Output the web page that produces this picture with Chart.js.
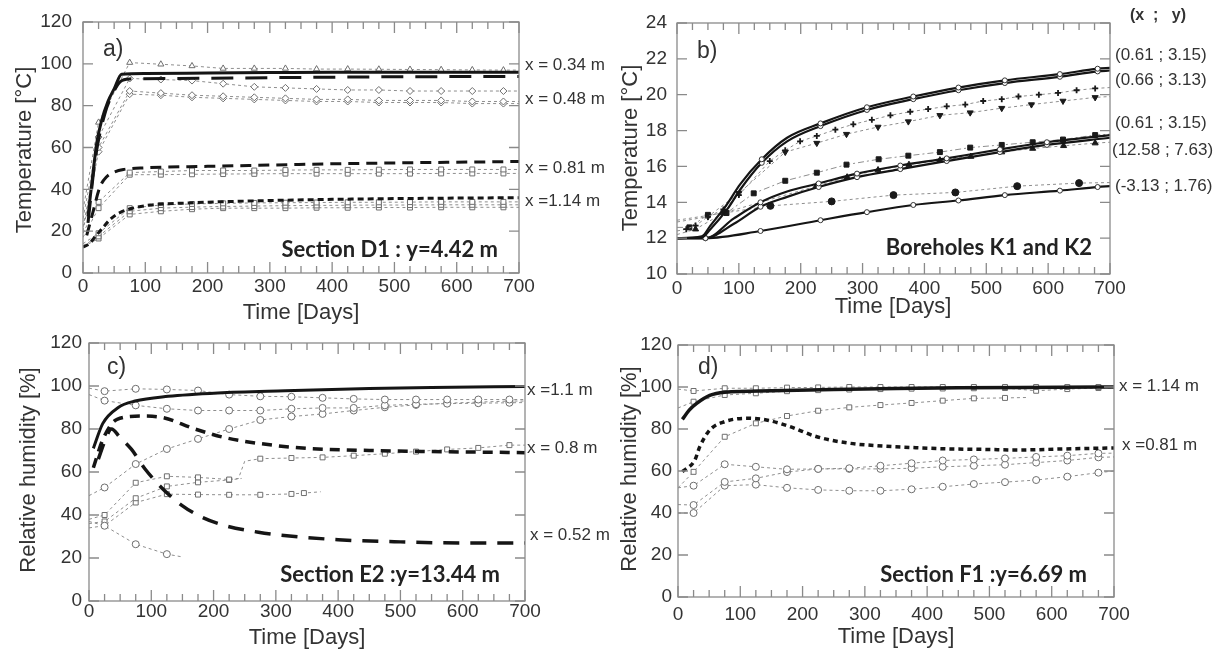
<!DOCTYPE html>
<html>
<head>
<meta charset="utf-8">
<script src="https://cdn.jsdelivr.net/npm/chart.js@4.4.0/dist/chart.umd.min.js"></script>
<style>
  body { margin: 0; background: #fff; width: 1223px; height: 650px; overflow: hidden; position: relative; }
  canvas { position: absolute; left: 0; top: 0; }
</style>
</head>
<body>
<canvas id="chartA" width="1223" height="650"></canvas>
<canvas id="chartB" width="1223" height="650"></canvas>
<canvas id="chartC" width="1223" height="650"></canvas>
<canvas id="chartD" width="1223" height="650"></canvas>
<script>
// ---- a) Section D1 : temperature ----
const aDays34 = [8, 15, 22, 30, 40, 50, 62, 100, 200, 300, 400, 500, 600, 700];
const aT34 = [27, 45, 62, 73, 82, 88, 95, 95.4, 95.6, 95.8, 96, 96, 96, 96];
const aDays48 = [8, 20, 35, 50, 60, 75, 150, 300, 500, 700];
const aT48 = [24, 55, 76, 87, 91.5, 92.8, 93, 93.4, 93.8, 94];
const aDays81 = [6, 15, 27, 38, 48, 65, 100, 200, 300, 400, 550, 700];
const aT81 = [18, 28, 41, 46, 48, 49.5, 50.3, 51, 51.6, 52.2, 52.8, 53.3];
const aDays114 = [0, 10, 20, 30, 45, 60, 80, 108, 170, 250, 400, 550, 700];
const aT114 = [12.4, 14, 17.5, 21, 26, 29, 31, 32.5, 33.5, 34.3, 35.2, 35.7, 36];
const aMeasDays = [0, 25, 75, 125, 175, 225, 275, 325, 375, 425, 475, 525, 575, 625, 675, 700];
const aTri = [30, 72, 100.6, 99.8, 99, 97.8, 97.8, 97.8, 97.5, 97.5, 97.4, 97.3, 97.2, 97.1, 97, 97];
const aDiaOpen = [26, 65, 93, 92.5, 92, 90.5, 89, 88.5, 88, 87.5, 87.5, 87, 87, 87, 87, 87];
const aDiaA = [22, 60, 87, 86, 85, 84.5, 84, 83.5, 83, 83, 82.5, 82.5, 82.5, 82, 82, 82];
const aDiaB = [20, 58, 85.5, 85, 84, 83.5, 83, 82.5, 82, 82, 81.5, 81.5, 81.5, 81, 81, 81];
const aSq81A = [19, 34, 48, 48.5, 49, 49, 49, 49.2, 49.3, 49.3, 49.4, 49.5, 49.5, 49.5, 49.5, 49.5];
const aSq81B = [17, 31, 47, 47, 47.2, 47.3, 47.4, 47.5, 47.5, 47.5, 47.5, 47.5, 47.6, 47.6, 47.6, 47.6];
const aSq114A = [14, 19, 31, 32.5, 33, 33.3, 33.5, 33.6, 33.7, 33.8, 33.8, 33.9, 34, 34, 34, 34];
const aSq114B = [13, 17.5, 29.5, 31, 31.5, 31.8, 32, 32.2, 32.3, 32.4, 32.5, 32.5, 32.6, 32.6, 32.6, 32.6];
const aSq114C = [12.5, 16.5, 28, 29.5, 30.5, 31, 31, 31, 31.2, 31.2, 31.3, 31.3, 31.4, 31.4, 31.4, 31.4];

// ---- b) Boreholes K1 and K2 ----
const bDaysTop = [0, 40, 54, 81, 102, 137, 178, 232, 307, 382, 455, 530, 619, 680, 700];
const bTop1 = [12, 12.1, 12.7, 13.9, 15.0, 16.4, 17.6, 18.4, 19.3, 19.9, 20.4, 20.8, 21.15, 21.45, 21.5];
const bTop2 = [12, 12.05, 12.5, 13.6, 14.7, 16.2, 17.4, 18.25, 19.15, 19.75, 20.25, 20.65, 21.0, 21.3, 21.35];
const bDaysMid = [0, 46, 92, 135, 178, 229, 291, 361, 436, 522, 598, 700];
const bMid1 = [12, 12, 13.1, 14, 14.6, 15.05, 15.6, 16.05, 16.45, 16.95, 17.35, 17.75];
const bMid2 = [12, 12, 12.8, 13.75, 14.3, 14.85, 15.4, 15.85, 16.3, 16.8, 17.2, 17.6];
const bDaysLow = [0, 46, 135, 232, 307, 382, 455, 530, 619, 680, 700];
const bLow = [12, 12, 12.4, 13.0, 13.45, 13.85, 14.1, 14.4, 14.65, 14.85, 14.9];
const bMarkDays = [46, 137, 135, 232, 229, 307, 291, 382, 361, 455, 436, 530, 522, 619, 598, 680];
const bCrossDays = [0, 15, 30, 50, 75, 100, 150, 175, 199, 226, 256, 285, 315, 345, 377, 406, 436, 466, 495, 525, 552, 585, 616, 646, 676, 700];
const bCross = [12.4, 12.5, 12.7, 13.2, 13.6, 14.4, 16.3, 16.9, 17.4, 17.7, 18.05, 18.35, 18.6, 18.85, 19.05, 19.2, 19.35, 19.45, 19.65, 19.75, 19.9, 20.0, 20.1, 20.25, 20.35, 20.4];
const bTriDownDays = [0, 50, 100, 175, 226, 274, 325, 374, 425, 474, 525, 573, 624, 676, 700];
const bTriDown = [12.9, 13.2, 14.5, 16.8, 17.3, 17.8, 18.2, 18.5, 18.85, 19.0, 19.25, 19.45, 19.65, 19.85, 19.9];
const bSqDays = [0, 20, 50, 80, 124, 175, 226, 274, 326, 374, 425, 474, 525, 575, 624, 676, 700];
const bSq = [12.6, 12.6, 13.3, 13.4, 14.5, 15.2, 15.65, 16.1, 16.4, 16.6, 16.8, 17.05, 17.2, 17.35, 17.5, 17.75, 17.8];
const bTriUpDays = [0, 30, 75, 225, 275, 325, 375, 425, 475, 525, 575, 625, 676, 700];
const bTriUp = [12.2, 12.5, 13.4, 14.9, 15.4, 15.8, 16.1, 16.35, 16.55, 16.8, 17.0, 17.15, 17.3, 17.35];
const bDotDays = [0, 151, 250, 350, 450, 550, 650, 700];
const bDot = [13.0, 13.8, 14.05, 14.4, 14.55, 14.9, 15.07, 15.1];

// ---- c) Section E2 : relative humidity ----
const cDaysSolid = [7, 22, 47, 74, 127, 207, 315, 450, 550, 700];
const cSolid = [71, 82.5, 90, 93, 95.2, 96.8, 97.8, 98.8, 99.3, 99.8];
const cDays08 = [7, 22, 45, 85, 117, 170, 218, 294, 350, 450, 550, 700];
const c08 = [62, 75, 84.5, 86, 85.4, 80, 76, 72.5, 71, 70, 69.5, 69];
const cDays052 = [15, 25, 36, 50, 68, 90, 119, 149, 181, 219, 272, 309, 400, 500, 600, 700];
const c052 = [66, 74, 80, 76, 70.6, 61.4, 52, 44.5, 39, 35, 32, 30.6, 28.5, 27.5, 27, 27];
const cMeasDays = [0, 25, 75, 125, 175, 225, 275, 325, 375, 425, 475, 525, 575, 625, 675, 700];
const cC1 = [99, 97.6, 98.7, 98.4, 97.9, 96, 95.2, 95, 94.5, 94, 93.7, 93.7, 93.7, 93.7, 93.7, 93.7];
const cC2 = [96, 93.2, 91, 89.4, 88.6, 88.6, 88.6, 89.4, 89.8, 89.8, 91, 91.5, 91.8, 92, 92.2, 92.3];
const cC3 = [49, 52.8, 63.7, 70.7, 75.4, 80, 84.2, 85.8, 87, 88.6, 90.1, 91.2, 92, 92.5, 93, 93];
const cC4Days = [0, 25, 75, 125, 150];
const cC4 = [37, 35, 26.4, 21.8, 20.5];
const cS1Days = [0, 25, 75, 125, 175, 225, 240, 250, 275, 325, 375, 425, 475, 525, 575, 625, 675, 700];
const cS1 = [38, 40, 55, 58, 57.5, 56.5, 57, 65, 66.2, 66.5, 66.8, 67.6, 68.5, 69.5, 70.5, 71.2, 72.5, 72.5];
const cS2Days = [0, 25, 75, 125, 175, 225, 245];
const cS2 = [36, 37, 47.8, 53.3, 55.2, 56.3, 57];
const cS3Days = [0, 25, 75, 125, 175, 225, 275, 325, 345, 372];
const cS3 = [34, 35, 45.8, 49.7, 49.5, 49.4, 49.4, 49.8, 50.2, 50.8];

// ---- d) Section F1 : relative humidity ----
const dDaysSolid = [7, 18, 30, 51, 75, 150, 250, 350, 450, 550, 700];
const dSolid = [84.6, 89, 92.2, 96, 97.5, 98.2, 98.8, 99.3, 99.6, 99.8, 100];
const dDays081 = [7, 27, 35, 51, 75, 110, 142, 180, 223, 276, 329, 383, 437, 490, 544, 620, 700];
const d081 = [59.7, 65.2, 71.6, 79.5, 83.5, 85.1, 84.3, 81.1, 76.3, 73.2, 71.9, 71.1, 70.5, 70.3, 70, 70.5, 71];
const dMeasDays = [0, 25, 75, 125, 175, 225, 275, 325, 375, 425, 475, 525, 575, 625, 675, 700];
const dSqTop = [99, 98.1, 99.4, 99.4, 99.7, 99.8, 100, 100, 100, 100, 100, 100, 100, 100, 100, 100];
const dSq3 = [90, 93, 96.2, 97, 98, 98.5, 98.8, 99, 99.2, 99.3, 99.4, 99.5, 98.2, 99, 99.5, 99.6];
const dSqRiseDays = [0, 25, 75, 125, 175, 225, 275, 325, 375, 425, 475, 525, 560];
const dSqRise = [52, 59.6, 76.3, 82.7, 86.2, 88.7, 90.3, 91.4, 92.4, 93.5, 94.6, 94.8, 95];
const dCa = [52, 53, 63.2, 62, 60.8, 61, 61.3, 62.5, 63.7, 65, 65.5, 66, 66.7, 67.3, 68.4, 68.5];
const dCb = [44, 43.8, 54.8, 56.5, 59.5, 61, 61, 61, 61.3, 62, 62.5, 63, 64, 65, 66.5, 66.7];
const dClow = [40, 40, 53, 53.5, 52, 51, 50.6, 50.6, 51.3, 52.5, 53.8, 54.7, 55.7, 57.3, 59.2, 60];

const FONT = "'Liberation Sans', Arial, sans-serif";
const BOLD = "bold 22px Lato, 'Open Sans', sans-serif";

function pts(days, vals) {
  return days.map((d, i) => ({ x: d, y: vals[i] }));
}
const oddMark = x => x > 0 && x < 700 && x % 50 === 25;
const allMark = x => x > 0 && x < 700;

function model(days, vals, width, dash, markDays) {
  return {
    data: pts(days, vals), borderColor: '#151515', borderWidth: width, borderDash: dash || [],
    cubicInterpolationMode: 'monotone', fill: false,
    pointStyle: 'circle', pointBackgroundColor: '#fff', pointBorderColor: '#333', pointBorderWidth: 1,
    pointRadius: c => (markDays && markDays.includes(c.raw.x)) ? 2.5 : 0
  };
}

function meas(days, vals, style, filled, mark, extra) {
  mark = mark || oddMark;
  return Object.assign({
    data: pts(days, vals), borderColor: '#8e8e8e', borderWidth: 1, borderDash: [3, 3], tension: 0, fill: false,
    pointStyle: style, pointRadius: c => mark(c.raw.x) ? 3.5 : 0,
    pointBorderColor: filled ? '#1a1a1a' : '#6e6e6e', pointBackgroundColor: filled ? '#1a1a1a' : '#fff',
    pointBorderWidth: 1
  }, extra || {});
}

const frameTicks = {
  id: 'frameTicks',
  afterDatasetsDraw(chart) {
    const { ctx, chartArea: a, scales: { x, y } } = chart;
    ctx.save();
    ctx.strokeStyle = '#8a8a8a';
    ctx.lineWidth = 1.3;
    ctx.strokeRect(a.left, a.top, a.right - a.left, a.bottom - a.top);
    ctx.beginPath();
    for (let d = 0; d <= 700; d += 25) {
      const px = x.getPixelForValue(d);
      const len = d % 100 === 0 ? 11 : 7;
      ctx.moveTo(px, a.bottom); ctx.lineTo(px, a.bottom - len);
      ctx.moveTo(px, a.top); ctx.lineTo(px, a.top + len);
    }
    y.ticks.forEach(t => {
      const py = y.getPixelForValue(t.value);
      ctx.moveTo(a.left, py); ctx.lineTo(a.left + 10, py);
      ctx.moveTo(a.right, py); ctx.lineTo(a.right - 10, py);
    });
    ctx.stroke();
    ctx.restore();
  }
};

function textLayer(items) {
  return {
    id: 'textLayer',
    afterDraw(chart) {
      const ctx = chart.ctx, y = chart.scales.y;
      ctx.save();
      items.forEach(it => {
        ctx.font = it.font;
        ctx.fillStyle = it.color || '#333';
        ctx.textAlign = it.align || 'left';
        ctx.textBaseline = 'middle';
        const py = it.v !== undefined ? y.getPixelForValue(it.v) : it.y;
        if (it.rot) {
          ctx.save();
          ctx.translate(it.x, py);
          ctx.rotate(-Math.PI / 2);
          ctx.fillText(it.t, 0, 0);
          ctx.restore();
        } else {
          ctx.fillText(it.t, it.x, py);
        }
      });
      ctx.restore();
    }
  };
}

function makeChart(id, p) {
  const YW = 60, XH = 30;
  const tickFont = { family: FONT, size: 19, lineHeight: 1 };
  new Chart(document.getElementById(id), {
    type: 'line',
    data: { datasets: p.datasets },
    options: {
      responsive: false, animation: false, events: [],
      layout: { padding: { left: p.area[0] - YW, right: 1223 - p.area[1], top: p.area[2], bottom: 650 - p.area[3] - XH } },
      plugins: { legend: { display: false }, tooltip: { enabled: false } },
      scales: {
        x: {
          type: 'linear', min: 0, max: 700,
          afterFit: s => { s.height = XH; },
          ticks: { stepSize: 100, padding: p.xPad, color: '#333', font: tickFont, maxRotation: 0, autoSkip: false },
          grid: { display: false, drawTicks: false }, border: { display: false }
        },
        y: {
          type: 'linear', min: p.yMin, max: p.yMax,
          afterFit: s => { s.width = YW; },
          ticks: { stepSize: p.yStep, padding: p.yPad, color: '#333', font: tickFont },
          grid: { display: false, drawTicks: false }, border: { display: false }
        }
      }
    },
    plugins: [frameTicks, textLayer(p.texts)]
  });
}

const lab = '17px ' + FONT;
const title = '22px ' + FONT;

makeChart('chartA', {
  area: [83, 519, 22, 273], yMin: 0, yMax: 120, yStep: 20, xPad: 4, yPad: 11,
  datasets: [
    model(aDays34, aT34, 3),
    model(aDays48, aT48, 3, [22, 12]),
    model(aDays81, aT81, 3, [11, 7]),
    model(aDays114, aT114, 3, [6, 4]),
    meas(aMeasDays, aTri, 'triangle', false),
    meas(aMeasDays, aDiaOpen, 'rectRot', false),
    meas(aMeasDays, aDiaA, 'rectRot', false),
    meas(aMeasDays, aDiaB, 'rectRot', false),
    meas(aMeasDays, aSq81A, 'rect', false),
    meas(aMeasDays, aSq81B, 'rect', false),
    meas(aMeasDays, aSq114A, 'rect', false),
    meas(aMeasDays, aSq114B, 'rect', false),
    meas(aMeasDays, aSq114C, 'rect', false)
  ],
  texts: [
    { t: 'a)', x: 103, y: 50, font: '23px ' + FONT },
    { t: 'Temperature [°C]', x: 25, y: 150, font: title, align: 'center', rot: true },
    { t: 'Time [Days]', x: 301, y: 313, font: title, align: 'center' },
    { t: 'Section D1 : y=4.42 m', x: 498, y: 250, font: BOLD, align: 'right', color: '#222' },
    { t: 'x = 0.34 m', x: 525, v: 99.4, font: lab },
    { t: 'x = 0.48 m', x: 525, v: 83.2, font: lab },
    { t: 'x = 0.81 m', x: 525, v: 50.2, font: lab },
    { t: 'x =1.14 m', x: 525, v: 34.4, font: lab }
  ]
});

makeChart('chartB', {
  area: [677, 1110, 23, 274], yMin: 10, yMax: 24, yStep: 2, xPad: 5, yPad: 10,
  datasets: [
    model(bDaysTop, bTop1, 2.2, [], bMarkDays),
    model(bDaysTop, bTop2, 2.2, [], bMarkDays),
    model(bDaysMid, bMid1, 2.2, [], bMarkDays),
    model(bDaysMid, bMid2, 2.2, [], bMarkDays),
    model(bDaysLow, bLow, 2.2, [], bMarkDays),
    meas(bCrossDays, bCross, 'cross', true, allMark, { pointRadius: c => allMark(c.raw.x) ? 3 : 0, pointBorderWidth: 1.8 }),
    meas(bTriDownDays, bTriDown, 'triangle', true, allMark, { pointRotation: 180 }),
    meas(bSqDays, bSq, 'rect', true, allMark, { borderDash: [6, 3, 2, 3] }),
    meas(bTriUpDays, bTriUp, 'triangle', true, allMark),
    meas(bDotDays, bDot, 'circle', true, allMark)
  ],
  texts: [
    { t: 'b)', x: 697, y: 52, font: '23px ' + FONT },
    { t: 'Temperature [°C]', x: 631, y: 148, font: title, align: 'center', rot: true },
    { t: 'Time [Days]', x: 893, y: 307, font: title, align: 'center' },
    { t: 'Boreholes K1 and K2', x: 1092, y: 248, font: BOLD, align: 'right', color: '#222' },
    { t: '(x  ;   y)', x: 1130, y: 16, font: 'bold 16px ' + FONT },
    { t: '(0.61 ; 3.15)', x: 1115, v: 22.2, font: lab },
    { t: '(0.66 ; 3.13)', x: 1115, v: 20.8, font: lab },
    { t: '(0.61 ; 3.15)', x: 1115, v: 18.4, font: lab },
    { t: '(12.58 ; 7.63)', x: 1112, v: 16.9, font: lab },
    { t: '(-3.13 ; 1.76)', x: 1115, v: 14.9, font: lab }
  ]
});

makeChart('chartC', {
  area: [89, 525, 343, 601], yMin: 0, yMax: 120, yStep: 20, xPad: 1.5, yPad: 7,
  datasets: [
    model(cDaysSolid, cSolid, 3),
    model(cDays08, c08, 3.5, [10, 7]),
    model(cDays052, c052, 3.5, [16, 11]),
    meas(cMeasDays, cC1, 'circle', false),
    meas(cMeasDays, cC2, 'circle', false),
    meas(cMeasDays, cC3, 'circle', false),
    meas(cC4Days, cC4, 'circle', false),
    meas(cS1Days, cS1, 'rect', false),
    meas(cS2Days, cS2, 'rect', false),
    meas(cS3Days, cS3, 'rect', false, x => oddMark(x) || x === 345)
  ],
  texts: [
    { t: 'c)', x: 107, y: 368, font: '23px ' + FONT },
    { t: 'Relative humidity [%]', x: 29, y: 470, font: title, align: 'center', rot: true },
    { t: 'Time [Days]', x: 307, y: 638, font: title, align: 'center' },
    { t: 'Section E2 :y=13.44 m', x: 500, y: 575, font: BOLD, align: 'right', color: '#222' },
    { t: 'x =1.1 m', x: 527, v: 98.1, font: lab },
    { t: 'x = 0.8 m', x: 527, v: 71.2, font: lab },
    { t: 'x = 0.52 m', x: 530, v: 30.7, font: lab }
  ]
});

makeChart('chartD', {
  area: [678, 1114, 345, 597], yMin: 0, yMax: 120, yStep: 20, xPad: 8.5, yPad: 6,
  datasets: [
    model(dDaysSolid, dSolid, 3.5),
    model(dDays081, d081, 3.5, [5, 4]),
    meas(dMeasDays, dSqTop, 'rect', false),
    meas(dMeasDays, dSq3, 'rect', false),
    meas(dSqRiseDays, dSqRise, 'rect', false),
    meas(dMeasDays, dCa, 'circle', false),
    meas(dMeasDays, dCb, 'circle', false),
    meas(dMeasDays, dClow, 'circle', false)
  ],
  texts: [
    { t: 'd)', x: 698, y: 368, font: '23px ' + FONT },
    { t: 'Relative humidity [%]', x: 630, y: 469, font: title, align: 'center', rot: true },
    { t: 'Time [Days]', x: 896, y: 637, font: title, align: 'center' },
    { t: 'Section F1 :y=6.69 m', x: 1087, y: 575, font: BOLD, align: 'right', color: '#222' },
    { t: 'x = 1.14 m', x: 1119, v: 100.5, font: lab },
    { t: 'x =0.81 m', x: 1122, v: 72.4, font: lab }
  ]
});
</script>
</body>
</html>
